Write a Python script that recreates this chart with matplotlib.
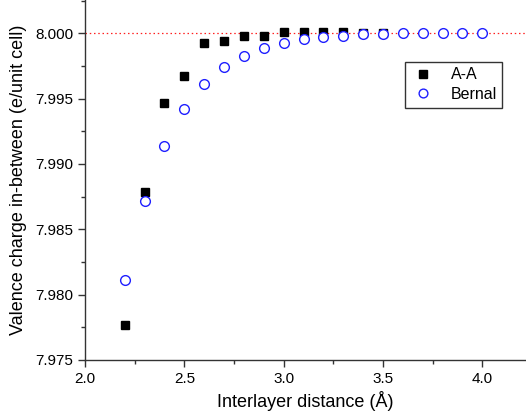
import numpy as np
import matplotlib
matplotlib.use("Agg")
import matplotlib.pyplot as plt
from matplotlib.ticker import MultipleLocator, FormatStrFormatter

plt.rcParams['font.family'] = ['Liberation Sans', 'DejaVu Sans']

# A-A stacking
aa_x = [2.2, 2.3, 2.4, 2.5, 2.6, 2.7, 2.8, 2.9, 3.0, 3.1, 3.2, 3.3, 3.4, 3.5]
aa_y = [7.97768, 7.98788, 7.99464, 7.99673, 7.99928, 7.99944, 7.99980, 7.99980,
        8.00013, 8.00013, 8.00008, 8.00008, 8.00005, 8.00003]

# Bernal stacking
bernal_x = [2.2, 2.3, 2.4, 2.5, 2.6, 2.7, 2.8, 2.9, 3.0, 3.1, 3.2, 3.3, 3.4,
            3.5, 3.6, 3.7, 3.8, 3.9, 4.0]
bernal_y = [7.98112, 7.98719, 7.99138, 7.99418, 7.99610, 7.99740, 7.99826, 7.99885,
            7.99928, 7.99954, 7.99970, 7.99982, 7.99992, 7.99997, 8.00000, 8.00000,
            8.00000, 8.00000, 8.00000]

fig = plt.figure(figsize=(5.26, 4.17), dpi=100)
ax = fig.add_axes([0.1616, 0.1367, 0.8384, 0.8633])

ax.axhline(8.000, color='#ff2020', linestyle=(0, (1.2, 2.2)), linewidth=0.9, zorder=1)

ax.plot(aa_x, aa_y, linestyle='none', marker='s', markersize=6.2,
        color='black', label='A-A', zorder=3)
ax.plot(bernal_x, bernal_y, linestyle='none', marker='o', markersize=7,
        markerfacecolor='white', markeredgecolor='#1f1fff', markeredgewidth=1.0,
        label='Bernal', zorder=4)

ax.set_xlim(2.0, 4.22)
ax.set_ylim(7.975, 8.00255)

ax.xaxis.set_major_locator(MultipleLocator(0.5))
ax.xaxis.set_minor_locator(MultipleLocator(0.25))
ax.yaxis.set_major_locator(MultipleLocator(0.005))
ax.yaxis.set_minor_locator(MultipleLocator(0.0025))
ax.xaxis.set_major_formatter(FormatStrFormatter('%.1f'))
ax.yaxis.set_major_formatter(FormatStrFormatter('%.3f'))

for s in ['top', 'right']:
    ax.spines[s].set_visible(False)
for s in ['left', 'bottom']:
    ax.spines[s].set_color('#333333')
    ax.spines[s].set_linewidth(1.0)

ax.tick_params(which='major', direction='out', length=5, width=1,
               color='#333333', labelsize=11)
ax.tick_params(which='minor', direction='out', length=3, width=1, color='#333333')

ax.set_xlabel('Interlayer distance (Å)', fontsize=13, labelpad=4)
ax.set_ylabel('Valence charge in-between (e/unit cell)', fontsize=13, labelpad=6)

leg = ax.legend(loc='upper left', bbox_to_anchor=(0.7256, 0.8286), fontsize=11.5,
                frameon=True, fancybox=False, edgecolor='black',
                handletextpad=0.9, borderpad=0.35, labelspacing=0.3,
                handlelength=1.6, markerscale=0.9, borderaxespad=0)
leg.get_frame().set_linewidth(1.0)

fig.savefig('out.png', dpi=100)
